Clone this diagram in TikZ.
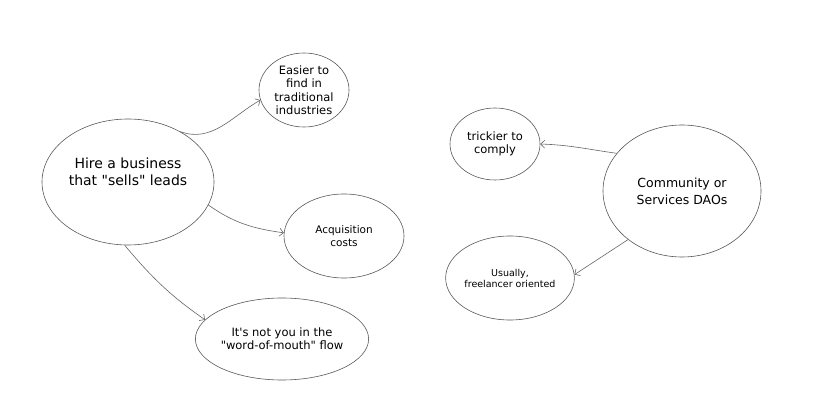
\documentclass[tikz,border=0pt]{standalone}
\usepackage{fontspec}
\setmainfont{DejaVu Sans}[Ligatures=TeXOff]
\usetikzlibrary{shapes.geometric,arrows.meta}
\begin{document}
\begin{tikzpicture}[x=1pt,y=1pt,
  bubble/.style={ellipse,draw=black!65,line width=0.6pt,inner sep=0pt,align=center,text=black},
  link/.style={draw=black!60,line width=0.6pt,-{Straight Barb[length=4pt,width=8pt]}},
  bigtext/.style={font=\fontsize{14}{17}\selectfont},
  midtext/.style={font=\fontsize{11.5}{13.5}\selectfont},
  smalltext/.style={font=\fontsize{10.5}{13}\selectfont},
  tinytext/.style={font=\fontsize{9.5}{11}\selectfont},
]
\useasboundingbox[fill=white] (0,0) rectangle (834,412);
% left cluster
\node[bubble,minimum width=172,minimum height=126,
  label={[bigtext,align=center,yshift=10pt]center:Hire a business\\that "sells" leads}] (hire) at (128,230) {};
\node[bubble,midtext,minimum width=90,minimum height=74] (easier) at (304,322) {Easier to\\find in\\traditional\\industries};
\node[bubble,smalltext,minimum width=120,minimum height=84] (acq) at (344,176) {Acquisition\\costs};
\node[bubble,font=\fontsize{11.5}{13}\selectfont,minimum width=164,minimum height=82] (notyou) at (282,73) {It's not you in the\\"word-of-mouth" flow};
% right cluster
\node[bubble,midtext,minimum width=90,minimum height=72] (tricky) at (495,268) {trickier to\\comply};
\node[bubble,font=\fontsize{12.5}{17}\selectfont,minimum width=158,minimum height=132] (dao) at (682,221) {Community or\\Services DAOs};
\node[bubble,tinytext,minimum width=116,minimum height=84] (usually) at (510,134) {Usually,\\freelancer oriented};
% connectors
\draw[link] (hire.44) to[out=-20,in=210] (easier.193);
\draw[link] (hire.-16) to[out=-35,in=172] (acq.177);
\draw[link] (hire.267) to[out=-50,in=145] (notyou.166);
\draw[link] (dao.150) to[out=172,in=-2] (tricky.0);
\draw[link] (dao.222) -- (usually.3);
\end{tikzpicture}
\end{document}
